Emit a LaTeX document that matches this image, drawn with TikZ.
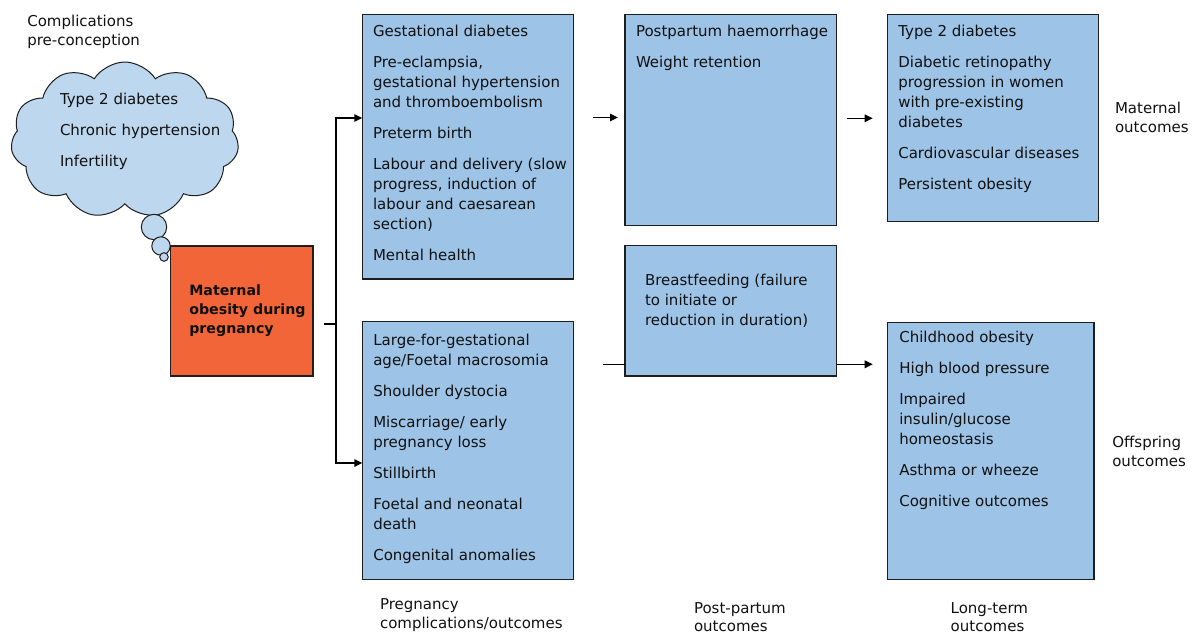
\documentclass[tikz,border=0pt]{standalone}
\usepackage{fontspec}
\setmainfont{DejaVu Sans}
\usetikzlibrary{arrows.meta,shapes.symbols}
\definecolor{boxblue}{HTML}{9DC3E6}
\definecolor{cloudblue}{HTML}{BDD7EE}
\definecolor{obeseorange}{HTML}{F26539}
\definecolor{ink}{HTML}{111111}
\definecolor{edgecol}{HTML}{1E1E1E}

\begin{document}
\begin{tikzpicture}[x=1pt,y=-1pt,
  box/.style={draw=edgecol, line width=1.1pt, fill=boxblue, inner sep=0pt, outer sep=0pt, anchor=north west},
  txt/.style={anchor=north west, inner sep=0pt, outer sep=0pt, align=left, text=ink, font=\fontsize{15}{20}\selectfont},
  lbl/.style={anchor=north west, inner sep=0pt, outer sep=0pt, align=left, text=ink, font=\fontsize{15}{19}\selectfont},
  lblb/.style={lbl, font=\fontsize{15}{18.4}\selectfont},
  conn/.style={draw=black, line width=1.5pt},
  arr/.style={conn, -{Triangle[length=8pt,width=7.5pt]}},
  bubble/.style={circle, draw=edgecol, line width=1pt, fill=cloudblue, inner sep=0pt, outer sep=0pt}
]
\useasboundingbox (0,0) rectangle (1200,635);

% thought cloud with its trailing bubbles
\node[cloud, cloud puffs=11, cloud puff arc=115, cloud ignores aspect,
      minimum width=228pt, minimum height=156pt, inner sep=0pt,
      draw=edgecol, line width=1pt, fill=cloudblue] (cl) at (124.8,140) {};
\node[bubble, minimum size=25.4pt] (b1) at (154,227) {};
\node[bubble, minimum size=18.4pt] (b2) at (161,246) {};
\node[bubble, minimum size=8.6pt] (b3) at (164,257) {};
\node[txt] (clt) at (60,90.3) {\strut Type 2 diabetes\\[11pt]Chronic hypertension\\[11pt]Infertility};
\node[lbl] (lpre) at (27.3,13.4) {\strut Complications\\pre-conception};

% central exposure
\node[box, fill=obeseorange, minimum width=142.3pt, minimum height=130pt] (O) at (170.7,246) {};
\node[anchor=north west, inner sep=0pt, outer sep=0pt, align=left, text=ink,
      font=\fontsize{14.2}{18.7}\selectfont\bfseries] (Ot) at (189.3,282.9)
      {\strut Maternal\\obesity during\\pregnancy};

% outcome boxes
\node[box, minimum width=211pt, minimum height=264.3pt] (A) at (362.3,14.7) {};
\node[box, minimum width=211pt, minimum height=257.6pt] (B) at (362.3,321.7) {};
\node[box, minimum width=211.7pt, minimum height=211pt] (C) at (625,14.7) {};
\node[box, minimum width=211.7pt, minimum height=130.3pt] (D) at (625,245.7) {};
\node[box, minimum width=211pt, minimum height=207pt] (E) at (887.3,14.7) {};
\node[box, minimum width=206.7pt, minimum height=257pt] (F) at (887.3,322.3) {};

\node[txt] (At) at ([shift={(10.7,7.3)}]A.north west)
  {\strut Gestational diabetes\\[11pt]
   Pre-eclampsia,\\gestational hypertension\\and thromboembolism\\[11pt]
   Preterm birth\\[11pt]
   Labour and delivery (slow\\progress, induction of\\labour and caesarean\\section)\\[11pt]
   Mental health};
\node[txt] (Bt) at ([shift={(11,9.3)}]B.north west)
  {\strut Large-for-gestational\\age/Foetal macrosomia\\[11pt]
   Shoulder dystocia\\[11pt]
   Miscarriage/ early\\pregnancy loss\\[11pt]
   Stillbirth\\[11pt]
   Foetal and neonatal\\death\\[11pt]
   Congenital anomalies};
\node[txt] (Ct) at ([shift={(11,7.3)}]C.north west)
  {\strut Postpartum haemorrhage\\[11pt]Weight retention};
\node[txt] (Dt) at ([shift={(20,26)}]D.north west)
  {\strut Breastfeeding (failure\\to initiate or\\reduction in duration)};
\node[txt] (Et) at ([shift={(11,7.3)}]E.north west)
  {\strut Type 2 diabetes\\[11pt]
   Diabetic retinopathy\\progression in women\\with pre-existing\\diabetes\\[11pt]
   Cardiovascular diseases\\[11pt]
   Persistent obesity};
\node[txt] (Ft) at ([shift={(12,6)}]F.north west)
  {\strut Childhood obesity\\[11pt]
   High blood pressure\\[11pt]
   Impaired\\insulin/glucose\\homeostasis\\[11pt]
   Asthma or wheeze\\[11pt]
   Cognitive outcomes};

% side and column labels
\node[lbl] (lmat) at (1115,100) {\strut Maternal\\outcomes};
\node[lbl] (loff) at (1112.3,434) {\strut Offspring\\outcomes};
\node[lblb] (lpreg) at (380,597.1) {\strut Pregnancy\\complications/outcomes};
\node[lblb] (lpost) at (694,600.4) {\strut Post-partum\\outcomes};
\node[lblb] (llong) at (950.7,600.4) {\strut Long-term\\outcomes};

% branching connector from the exposure
\coordinate (os) at (324,324);
\coordinate (sp) at (336,324);
\coordinate (ya) at (336,118);
\coordinate (yb) at (336,463);
\draw[conn] (os) -- (sp);
\draw[arr] (sp) -- (ya) -- (A.west |- ya);
\draw[arr] (sp) -- (yb) -- (B.west |- yb);

% arrows between columns
\coordinate (ac1) at (593,117.5);
\coordinate (ac2) at (618,117.5);
\draw[arr] (ac1) -- (ac2);
\coordinate (ce1) at (846.7,118.3);
\coordinate (ce2) at (872.7,118.3);
\draw[arr] (ce1) -- (ce2);
\coordinate (bd) at (603,364.3);
\draw[conn] (bd) -- (D.west |- bd);
\coordinate (df) at (872.7,364.3);
\draw[arr] (D.east |- df) -- (df);
\end{tikzpicture}
\end{document}
